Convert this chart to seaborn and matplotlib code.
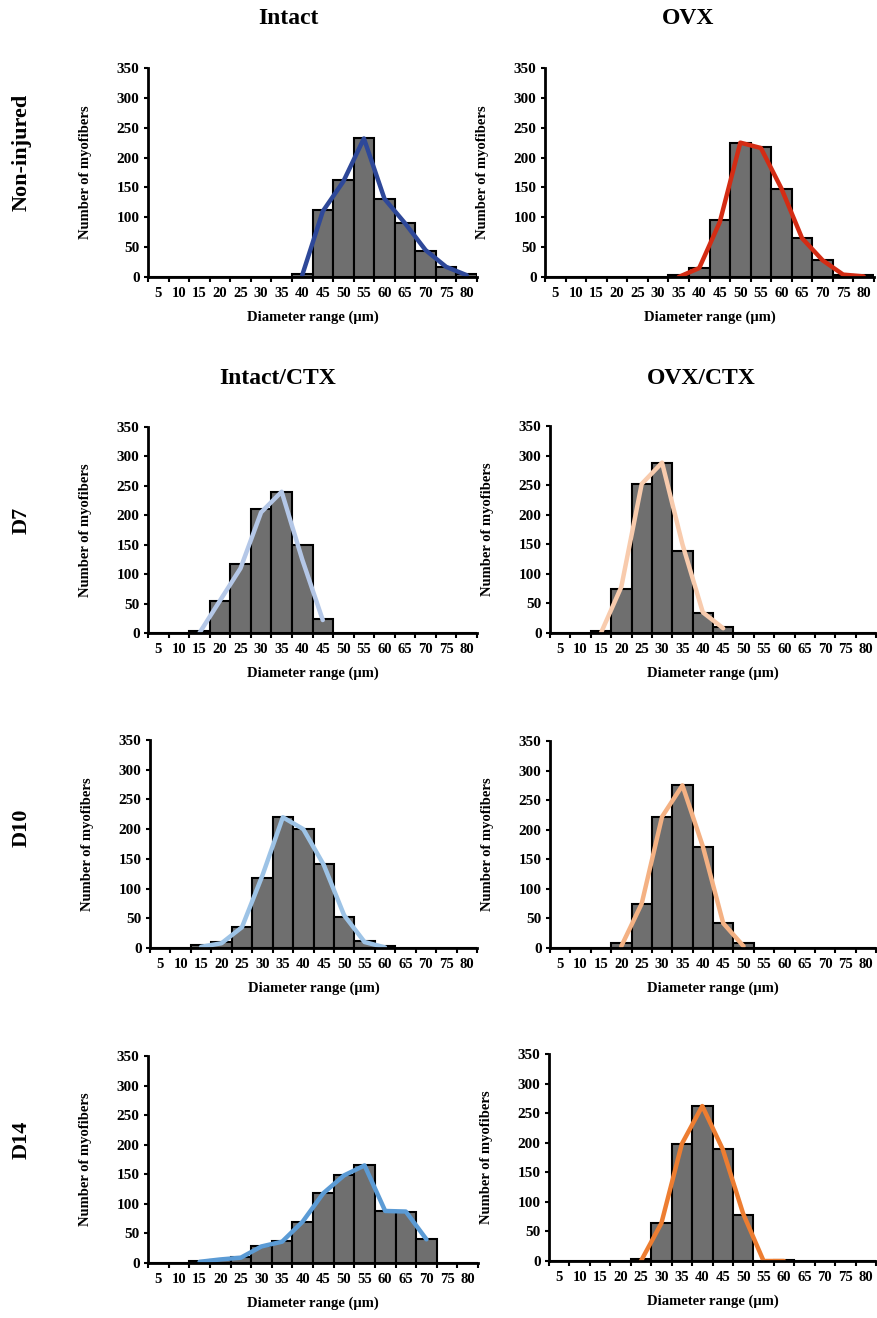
import numpy as np
import pandas as pd
import seaborn as sns
import matplotlib.pyplot as plt

nan = np.nan

# diameter classes (um)
diameters = [5, 10, 15, 20, 25, 30, 35, 40, 45, 50, 55, 60, 65, 70, 75, 80]

# bar heights (number of myofibers) per class
intact_bars = [0, 0, 0, 0, 0, 0, 0, 5, 113, 162, 233, 130, 90, 43, 16, 5]
ovx_bars = [0, 0, 0, 0, 0, 0, 3, 15, 95, 225, 217, 148, 66, 28, 4, 3]
d7_intact_bars = [0, 0, 3, 55, 118, 210, 240, 150, 23, 0, 0, 0, 0, 0, 0, 0]
d7_ovx_bars = [0, 0, 3, 75, 252, 288, 138, 34, 10, 0, 0, 0, 0, 0, 0, 0]
d10_intact_bars = [0, 0, 5, 10, 35, 118, 220, 200, 142, 53, 12, 4, 0, 0, 0, 0]
d10_ovx_bars = [0, 0, 0, 8, 75, 222, 275, 170, 42, 8, 0, 0, 0, 0, 0, 0]
d14_intact_bars = [0, 0, 3, 5, 10, 28, 37, 70, 118, 148, 165, 88, 87, 40, 0, 0]
d14_ovx_bars = [0, 0, 0, 0, 4, 64, 198, 262, 189, 78, 0, 2, 0, 0, 0, 0]

# distribution curves
intact_line = [nan, nan, nan, nan, nan, nan, nan, 3, 110, 160, 232, 131, 90, 45, 17, 3]
ovx_line = [nan, nan, nan, nan, nan, nan, 0, 15, 92, 225, 216, 148, 65, 28, 4, 1]
d7_intact_line = [nan, nan, 0, 55, 110, 205, 240, 125, 22, nan, nan, nan, nan, nan, nan, nan]
d7_ovx_line = [nan, nan, 0, 78, 252, 288, 150, 35, 8, nan, nan, nan, nan, nan, nan, nan]
d10_intact_line = [nan, nan, 2, 8, 35, 122, 220, 200, 140, 55, 10, 1, nan, nan, nan, nan]
d10_ovx_line = [nan, nan, nan, 3, 75, 222, 275, 172, 42, 3, nan, nan, nan, nan, nan, nan]
d14_intact_line = [nan, nan, 2, 6, 9, 28, 36, 70, 118, 148, 165, 88, 87, 40, nan, nan]
d14_ovx_line = [nan, nan, nan, nan, 0, 64, 198, 262, 189, 80, 0, 0, nan, nan, nan, nan]

panels = [
    (intact_bars, intact_line, "#2E4899"),
    (ovx_bars, ovx_line, "#D42C14"),
    (d7_intact_bars, d7_intact_line, "#B4C7E7"),
    (d7_ovx_bars, d7_ovx_line, "#F8CBAD"),
    (d10_intact_bars, d10_intact_line, "#9DC3E6"),
    (d10_ovx_bars, d10_ovx_line, "#F4B183"),
    (d14_intact_bars, d14_intact_line, "#5B9BD5"),
    (d14_ovx_bars, d14_ovx_line, "#ED7D31"),
]

# axes boxes in pixels: left, top, right, bottom
boxes = [
    (148, 68, 477, 277), (545, 68, 874, 277),
    (148, 427, 477, 633), (550, 426, 876, 633),
    (150, 740, 477, 948), (550, 741, 876, 948),
    (148, 1056, 478, 1263), (549, 1054, 876, 1261),
]

W, H = 877, 1318
sns.set_theme(style="ticks")
plt.rcParams['font.family'] = ['Liberation Serif', 'DejaVu Serif']
plt.rcParams['font.weight'] = 'bold'
plt.rcParams['axes.labelweight'] = 'bold'
plt.rcParams['text.color'] = 'black'
plt.rcParams['axes.labelcolor'] = 'black'
plt.rcParams['xtick.color'] = 'black'
plt.rcParams['ytick.color'] = 'black'

fig = plt.figure(figsize=(W / 100, H / 100), dpi=100)

for (bars, line, color), (l, t, r, b) in zip(panels, boxes):
    ax = fig.add_axes([l / W, 1 - b / H, (r - l) / W, (b - t) / H])
    df = pd.DataFrame({"diam": diameters, "count": bars, "curve": line})
    sns.barplot(data=df, x="diam", y="count", native_scale=True, width=1,
                color="#6F6F6F", saturation=1, edgecolor="black", linewidth=1.5, ax=ax)
    sns.lineplot(data=df.dropna(), x="diam", y="curve", color=color, linewidth=3.2, ax=ax)
    ax.set_xlim(2.5, 82.5)
    ax.set_ylim(0, 350)
    ax.set_yticks(range(0, 351, 50))
    ax.set_xticks(diameters)
    ax.set_xticklabels([str(d) for d in diameters])
    ax.set_xticks(np.arange(2.5, 83, 5), minor=True)
    ax.tick_params(axis='x', which='major', length=0, pad=7, labelsize=10.5)
    ax.tick_params(axis='x', which='minor', length=3.5, width=1.5, direction='out', color='black')
    ax.tick_params(axis='y', length=3, width=1.5, pad=3, labelsize=11, color='black')
    for s in ["top", "right"]:
        ax.spines[s].set_visible(False)
    for s in ["left", "bottom"]:
        ax.spines[s].set_linewidth(2)
        ax.spines[s].set_color("black")
    ax.set_xlabel("Diameter range (µm)", fontsize=10.5, fontweight='bold')
    ax.set_ylabel("Number of myofibers", fontsize=10.5, fontweight='bold')
    ax.yaxis.set_label_coords(-56 / (r - l), 0.5)
    ax.xaxis.set_label_coords(0.5, -34 / (b - t))

col_titles = [("Intact", 288, 18), ("OVX", 688, 18), ("Intact/CTX", 278, 378), ("OVX/CTX", 701, 378)]
for txt, x, y in col_titles:
    fig.text(x / W, 1 - y / H, txt, fontsize=17, fontweight='bold', ha='center', va='center')

row_titles = [("Non-injured", 152), ("D7", 520), ("D10", 828), ("D14", 1140)]
for txt, y in row_titles:
    fig.text(22 / W, 1 - y / H, txt, fontsize=16, fontweight='bold', rotation=90,
             ha='center', va='center')

fig.savefig("out.png", dpi=100)
